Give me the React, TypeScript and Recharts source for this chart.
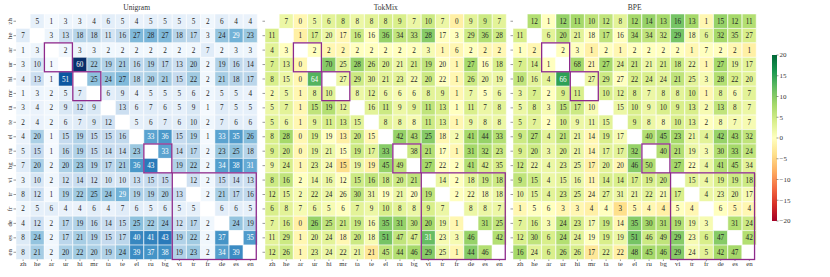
import React from 'react';
import { BarChart, Bar, XAxis, YAxis, Cell, LabelList } from 'recharts';

const languages = ['zh', 'he', 'ar', 'ur', 'hi', 'mr', 'ta', 'te', 'el', 'ru', 'bg', 'vi', 'tr', 'fr', 'de', 'es', 'en'];

const N = null;
// rows = y language, columns = x language
const unigramRows: (number | null)[][] = [
  [N, 5, 1, 3, 3, 4, 6, 5, 4, 5, 5, 5, 5, 2, 6, 4, 4],
  [7, N, 3, 13, 18, 18, 11, 16, 27, 28, 27, 18, 17, 3, 24, 29, 23],
  [1, 3, N, 2, 3, 3, 2, 2, 2, 2, 2, 2, 2, 7, 2, 3, 3],
  [3, 10, 1, N, 60, 22, 19, 21, 16, 19, 17, 13, 20, 2, 19, 16, 14],
  [4, 13, 1, 51, N, 25, 24, 27, 18, 20, 21, 15, 22, 2, 21, 18, 17],
  [1, 3, 2, 5, 7, N, 6, 9, 4, 5, 5, 5, 6, 2, 5, 5, 4],
  [3, 4, 2, 9, 12, 9, N, 13, 6, 7, 6, 5, 9, 1, 7, 5, 5],
  [2, 4, 2, 6, 7, 9, 12, N, 5, 6, 7, 6, 10, 2, 7, 6, 6],
  [4, 20, 1, 15, 19, 15, 15, 16, N, 33, 36, 15, 19, 1, 33, 35, 26],
  [5, 15, 1, 16, 19, 15, 14, 14, 23, N, 33, 14, 17, 2, 23, 25, 18],
  [7, 20, 2, 20, 23, 19, 17, 21, 36, 43, N, 19, 22, 2, 34, 38, 31],
  [3, 10, 2, 12, 14, 12, 10, 10, 13, 15, 15, N, 12, 2, 15, 14, 13],
  [8, 12, 1, 19, 22, 25, 24, 29, 19, 19, 20, 13, N, 2, 21, 17, 16],
  [2, 5, 6, 4, 4, 6, 4, 7, 6, 5, 6, 5, 5, N, 6, 6, 5],
  [4, 12, 2, 17, 19, 16, 14, 15, 25, 22, 24, 12, 17, 2, N, 24, 19],
  [8, 24, 2, 17, 21, 19, 15, 17, 40, 41, 43, 19, 22, 2, 37, N, 35],
  [8, 21, 2, 20, 22, 20, 19, 24, 39, 37, 38, 19, 23, 2, 34, 39, N],
];

const tokmixRows: (number | null)[][] = [
  [N, 7, 0, 5, 6, 8, 8, 8, 8, 9, 7, 10, 7, 0, 9, 9, 7],
  [11, N, 1, 17, 20, 17, 16, 16, 36, 34, 33, 28, 17, 3, 29, 36, 28],
  [4, 3, N, 2, 2, 2, 2, 2, 2, 2, 2, 3, 1, 6, 2, 2, 2],
  [7, 13, 0, N, 70, 25, 28, 26, 20, 21, 21, 19, 20, 1, 27, 16, 18],
  [8, 15, 0, 64, N, 27, 29, 30, 21, 23, 22, 20, 22, 1, 26, 20, 19],
  [2, 5, 1, 8, 10, N, 8, 12, 6, 6, 6, 8, 9, 1, 7, 5, 6],
  [5, 7, 1, 15, 19, 12, N, 16, 11, 9, 9, 11, 13, 1, 11, 7, 8],
  [5, 6, 1, 9, 11, 13, 15, N, 8, 8, 8, 11, 13, 1, 9, 8, 8],
  [8, 28, 0, 19, 19, 13, 20, 15, N, 42, 43, 25, 18, 2, 41, 44, 33],
  [9, 20, 0, 19, 21, 15, 19, 17, 33, N, 38, 21, 17, 1, 31, 32, 23],
  [9, 24, 1, 23, 24, 15, 19, 19, 45, 49, N, 27, 22, 2, 41, 42, 35],
  [8, 16, 2, 14, 16, 12, 15, 16, 18, 20, 21, N, 14, 2, 18, 19, 18],
  [12, 15, 2, 22, 24, 26, 30, 31, 19, 21, 20, 19, N, 2, 22, 18, 18],
  [6, 8, 7, 6, 5, 6, 7, 9, 10, 8, 8, 9, 7, N, 8, 8, 7],
  [7, 16, 0, 26, 25, 21, 19, 16, 35, 31, 30, 20, 19, 1, N, 31, 25],
  [11, 29, 1, 20, 24, 18, 20, 18, 51, 47, 47, 31, 23, 3, 46, N, 42],
  [12, 26, 1, 23, 24, 22, 21, 21, 45, 44, 46, 29, 25, 1, 44, 46, N],
];

const bpeRows: (number | null)[][] = [
  [N, 12, 1, 12, 11, 10, 12, 8, 12, 14, 13, 16, 13, 1, 15, 12, 11],
  [11, N, 6, 20, 21, 18, 17, 16, 34, 34, 32, 29, 18, 6, 32, 35, 27],
  [1, 2, N, 2, 3, 1, 2, 1, 2, 2, 2, 2, 1, 7, 2, 2, 1],
  [7, 14, 1, N, 68, 21, 27, 24, 21, 21, 21, 18, 22, 1, 27, 19, 17],
  [10, 16, 4, 66, N, 27, 29, 27, 22, 24, 24, 21, 25, 3, 28, 22, 20],
  [3, 7, 2, 9, 11, N, 10, 12, 8, 7, 8, 8, 10, 1, 8, 6, 7],
  [5, 8, 3, 15, 17, 10, N, 15, 10, 9, 10, 9, 13, 2, 13, 8, 7],
  [5, 7, 2, 10, 9, 11, 15, N, 9, 8, 8, 10, 13, 2, 8, 7, 7],
  [9, 27, 4, 21, 21, 14, 19, 17, N, 40, 45, 23, 21, 4, 42, 43, 32],
  [9, 20, 3, 20, 21, 14, 17, 17, 32, N, 40, 21, 19, 3, 30, 33, 24],
  [12, 22, 4, 23, 25, 17, 20, 20, 46, 50, N, 27, 22, 4, 41, 45, 34],
  [9, 15, 4, 15, 16, 11, 14, 14, 17, 19, 20, N, 15, 4, 19, 19, 18],
  [10, 15, 4, 23, 25, 24, 27, 31, 21, 22, 21, 17, N, 4, 23, 20, 17],
  [1, 5, 6, 3, 3, 4, 4, 3, 5, 4, 4, 5, 4, N, 6, 5, 4],
  [7, 16, 3, 24, 23, 17, 19, 14, 35, 30, 31, 19, 19, 3, N, 31, 24],
  [12, 30, 6, 24, 24, 19, 19, 19, 51, 46, 49, 29, 23, 6, 47, N, 42],
  [16, 24, 6, 26, 26, 17, 22, 22, 48, 45, 46, 29, 24, 5, 42, 47, N],
];

// same-script language groups, outlined in each heatmap
const scriptBoxes = [
  { from: 'ar', to: 'ur' },
  { from: 'hi', to: 'mr' },
  { from: 'ru', to: 'bg' },
  { from: 'vi', to: 'en' },
];

const colorbarTicks = [-20, -15, -10, -5, 0, 5, 10, 15, 20];
const unigramMax = 60;
const diffRange = 20;

const BLUES = ['#f7fbff', '#deebf7', '#c6dbef', '#9ecae1', '#6baed6', '#4292c6', '#2171b5', '#08519c', '#08306b'];
const RDYLGN = ['#a50026', '#d73027', '#f46d43', '#fdae61', '#fee08b', '#ffffbf', '#d9ef8b', '#a6d96a', '#66bd63', '#1a9850', '#006837'];

const FONT = '"Liberation Serif", "DejaVu Serif", serif';
const BOX_COLOR = '#8e2a8c';
const LAST = languages.length - 1;

function hexToRgb(h: string): number[] {
  const v = parseInt(h.slice(1), 16);
  return [(v >> 16) & 255, (v >> 8) & 255, v & 255];
}

function interp(stops: string[], t: number): number[] {
  const c = Math.max(0, Math.min(1, t));
  const pos = c * (stops.length - 1);
  const i = Math.min(stops.length - 2, Math.floor(pos));
  const f = pos - i;
  const a = hexToRgb(stops[i]);
  const b = hexToRgb(stops[i + 1]);
  return a.map((av, k) => av + (b[k] - av) * f);
}

function rgbStr(c: number[]): string {
  return `rgb(${Math.round(c[0])},${Math.round(c[1])},${Math.round(c[2])})`;
}

function luminance(c: number[]): number {
  const lin = c.map((v) => {
    const s = v / 255;
    return s <= 0.03928 ? s / 12.92 : Math.pow((s + 0.055) / 1.055, 2.4);
  });
  return 0.2126 * lin[0] + 0.7152 * lin[1] + 0.0722 * lin[2];
}

type Mode = 'abs' | 'diff';

function cellRgb(rows: (number | null)[][], mode: Mode, i: number, j: number): number[] | null {
  const v = rows[i][j];
  if (v === null) return null;
  if (mode === 'abs') return interp(BLUES, v / unigramMax);
  const base = unigramRows[i][j] as number;
  return interp(RDYLGN, (v - base + diffRange) / (2 * diffRange));
}

const columnData = languages.map((lang) => {
  const o: Record<string, any> = { lang };
  languages.forEach((_, i) => {
    o[`r${i}`] = 1;
  });
  return o;
});

const yTicks = languages.map((_, i) => i + 0.5);

const YTickRot = (props: any) => {
  const { x, y, payload, showLabel } = props;
  if (!showLabel) return null;
  const label = languages[Math.floor(payload.value)];
  return (
    <text
      x={x}
      y={y}
      transform={`rotate(-90 ${x} ${y})`}
      textAnchor="middle"
      fontSize={6.8}
      fontFamily={FONT}
      fill="#333"
    >
      {label}
    </text>
  );
};

function makeLabel(rows: (number | null)[][], mode: Mode, i: number) {
  return (p: any) => {
    const j = p.index;
    const vb = p.viewBox || p;
    const rx = Number(vb.x);
    const ry = Number(vb.y);
    const rw = Number(vb.width);
    const rh = Number(vb.height);
    // normalise (bars on a reversed axis may report a negative height)
    const left = Math.min(rx, rx + rw);
    const top = Math.min(ry, ry + rh);
    const cw = Math.abs(rw);
    const ch = Math.abs(rh);
    const v = rows[i][j];
    let label: React.ReactNode = null;
    if (v !== null && v !== undefined) {
      const c = cellRgb(rows, mode, i, j) as number[];
      const fill = luminance(c) < 0.408 ? '#ffffff' : '#262626';
      label = (
        <text
          x={left + cw / 2}
          y={top + ch / 2}
          dy="0.35em"
          textAnchor="middle"
          fontSize={7.2}
          fontFamily={FONT}
          fill={fill}
        >
          {v}
        </text>
      );
    }
    // the last row is drawn last: outline the script groups on top of all cells
    let boxes: React.ReactNode = null;
    if (i === LAST) {
      boxes = scriptBoxes
        .filter((b) => languages.indexOf(b.from) === j)
        .map((b) => {
          const a = languages.indexOf(b.from);
          const e = languages.indexOf(b.to);
          const n = e - a + 1;
          return (
            <rect
              key={b.from}
              x={left}
              y={top - (LAST - a) * ch}
              width={cw * n}
              height={ch * n}
              fill="none"
              stroke={BOX_COLOR}
              strokeWidth={1.3}
            />
          );
        });
    }
    return (
      <g key={`l${i}-${j}`}>
        {label}
        {boxes}
      </g>
    );
  };
}

function Heatmap(props: {
  rows: (number | null)[][];
  mode: Mode;
  width: number;
  yAxisWidth: number;
  showYLabels: boolean;
}) {
  const { rows, mode, width, yAxisWidth, showYLabels } = props;
  return (
    <BarChart
      width={width}
      height={277}
      data={columnData}
      margin={{ top: 14, right: 2.5, left: 0, bottom: 3.5 }}
      barCategoryGap={0}
      barGap={0}
    >
      <XAxis
        dataKey="lang"
        type="category"
        height={14}
        axisLine={false}
        tickSize={1.5}
        tickMargin={0}
        interval={0}
        tickLine={{ stroke: '#555', strokeWidth: 0.6 }}
        tick={{ fontSize: 6.8, fontFamily: FONT, fill: '#333' }}
      />
      <YAxis
        type="number"
        domain={[0, 17]}
        reversed
        ticks={yTicks}
        interval={0}
        width={yAxisWidth}
        axisLine={false}
        tickSize={2.5}
        tickMargin={1.5}
        tickLine={{ stroke: '#555', strokeWidth: 0.6 }}
        tick={<YTickRot showLabel={showYLabels} />}
      />
      {languages.map((_, i) => (
        <Bar
          key={`r${i}`}
          dataKey={`r${i}`}
          stackId="s"
          isAnimationActive={false}
          stroke="#ffffff"
          strokeWidth={0.5}
        >
          {languages.map((__, j) => {
            const c = cellRgb(rows, mode, i, j);
            return <Cell key={`c${j}`} fill={c ? rgbStr(c) : '#ffffff'} />;
          })}
          <LabelList dataKey={`r${i}`} content={makeLabel(rows, mode, i)} />
        </Bar>
      ))}
    </BarChart>
  );
}

const colorbarData = [{ name: 'scale', range: [-diffRange, diffRange] }];

function Colorbar() {
  return (
    <BarChart
      width={70}
      height={277}
      data={colorbarData}
      margin={{ top: 55, right: 0, left: 17, bottom: 56 }}
      barCategoryGap={0}
    >
      <defs>
        <linearGradient id="rdylgn" x1="0" y1="1" x2="0" y2="0">
          {RDYLGN.map((c, k) => (
            <stop key={k} offset={`${(k / (RDYLGN.length - 1)) * 100}%`} stopColor={c} />
          ))}
        </linearGradient>
      </defs>
      <XAxis dataKey="name" hide />
      <YAxis
        type="number"
        orientation="right"
        domain={[-diffRange, diffRange]}
        ticks={colorbarTicks}
        interval={0}
        width={48.5}
        axisLine={false}
        tickSize={2}
        tickMargin={1}
        tickLine={{ stroke: '#555', strokeWidth: 0.6 }}
        tickFormatter={(v: number) => (v < 0 ? `\u2212${Math.abs(v)}` : `${v}`)}
        tick={{ fontSize: 7, fontFamily: FONT, fill: '#333', textAnchor: 'start' }}
      />
      <Bar dataKey="range" fill="url(#rdylgn)" isAnimationActive={false} />
    </BarChart>
  );
}

const titleStyle = (center: number): React.CSSProperties => ({
  position: 'absolute',
  left: center - 50,
  width: 100,
  top: 3,
  textAlign: 'center',
  fontSize: 7.5,
  lineHeight: '9px',
  fontFamily: FONT,
  color: '#333',
});

export default function App() {
  return (
    <div style={{ position: 'absolute', left: 0, top: 0, width: 830, height: 277, background: '#fff', overflow: 'hidden' }}>
      <div style={{ position: 'absolute', left: 0, top: 0 }}>
        <Heatmap rows={unigramRows} mode="abs" width={260} yAxisWidth={16} showYLabels={true} />
      </div>
      <div style={{ position: 'absolute', left: 255, top: 0 }}>
        <Heatmap rows={tokmixRows} mode="diff" width={254} yAxisWidth={10} showYLabels={false} />
      </div>
      <div style={{ position: 'absolute', left: 503, top: 0 }}>
        <Heatmap rows={bpeRows} mode="diff" width={256} yAxisWidth={10} showYLabels={false} />
      </div>
      <div style={{ position: 'absolute', left: 755, top: 0 }}>
        <Colorbar />
      </div>
      <div style={titleStyle(136.7)}>Unigram</div>
      <div style={titleStyle(385.7)}>TokMix</div>
      <div style={titleStyle(634.7)}>BPE</div>
    </div>
  );
}
